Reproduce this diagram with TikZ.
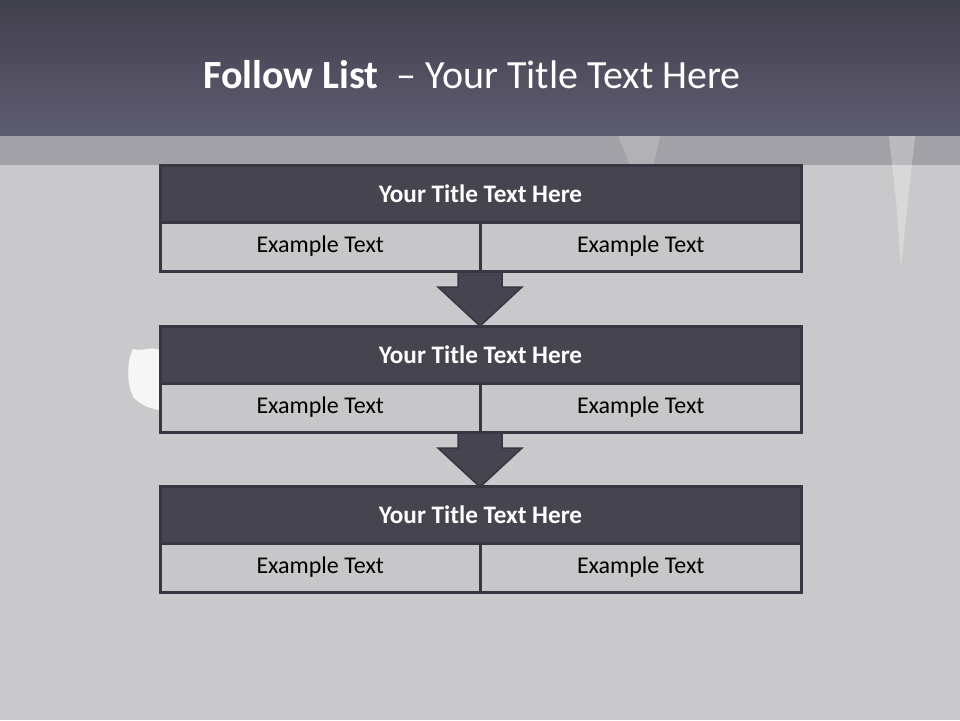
\documentclass[tikz,border=0pt]{standalone}
\usepackage{fontspec}
\setmainfont{Carlito}
\usetikzlibrary{calc}
\definecolor{hdtop}{HTML}{403F4C}
\definecolor{hdbot}{HTML}{5F5D71}
\definecolor{band}{HTML}{A2A1A7}
\definecolor{bgc}{HTML}{C9C9CB}
\definecolor{darkfill}{HTML}{46444F}
\definecolor{edge}{HTML}{383741}
\definecolor{cellfill}{HTML}{C7C7C9}
\begin{document}
\begin{tikzpicture}[x=1pt,y=-1pt,
  titlebox/.style={draw=edge, line width=3pt, fill=darkfill, minimum width=641pt, minimum height=57pt, inner sep=0pt, outer sep=0pt, text=white, font=\fontsize{25.2}{29}\selectfont\bfseries},
  cellbox/.style={draw=edge, line width=3pt, fill=cellfill, minimum width=320.5pt, minimum height=49pt, inner sep=0pt, outer sep=0pt, text=black, font=\fontsize{24}{28}\selectfont},
  downarrow/.style={draw=edge, line width=1.5pt, fill=darkfill, line join=miter}]
\useasboundingbox (0,0) rectangle (960,720);
% background
\fill[bgc] (0,0) rectangle (960,720);
\shade[top color=hdtop, bottom color=hdbot] (0,0) rectangle (960,136);
\fill[band] (0,136) rectangle (960,165);
\fill[white, opacity=0.18] (618,136) -- (660,136) -- (648,190) -- (640,190) -- cycle;
\fill[white, opacity=0.28] (889,136) -- (915,136) -- (907,210) -- (901,268) -- (897,210) -- cycle;
\fill[white, opacity=0.85] (160,350) .. controls (150,346) and (142,352) .. (133,349) .. controls (127,360) and (126,385) .. (134,398) .. controls (142,406) and (152,409) .. (160,410) -- cycle;
% title
\node[text=white, font=\fontsize{40}{48}\selectfont, anchor=base] (ttl) at (472,88) {\textbf{Follow List}\ \ – Your Title Text Here};
% arrows
\draw[downarrow] (458,268) -- (502,268) -- (502,287) -- (522,287) -- (480,326) -- (438,287) -- (458,287) -- cycle;
\draw[downarrow] (458,429) -- (502,429) -- (502,448) -- (522,448) -- (480,487) -- (438,448) -- (458,448) -- cycle;
% box 1
\node[titlebox] (t1) at (480.5,193.5) {Your Title Text Here};
\node[cellbox, anchor=north west] (l1) at (t1.south west) {Example Text};
\node[cellbox, anchor=north east] (r1) at (t1.south east) {Example Text};
% box 2
\node[titlebox] (t2) at (480.5,354.5) {Your Title Text Here};
\node[cellbox, anchor=north west] (l2) at (t2.south west) {Example Text};
\node[cellbox, anchor=north east] (r2) at (t2.south east) {Example Text};
% box 3
\node[titlebox] (t3) at (480.5,514.5) {Your Title Text Here};
\node[cellbox, anchor=north west] (l3) at (t3.south west) {Example Text};
\node[cellbox, anchor=north east] (r3) at (t3.south east) {Example Text};
\end{tikzpicture}
\end{document}
